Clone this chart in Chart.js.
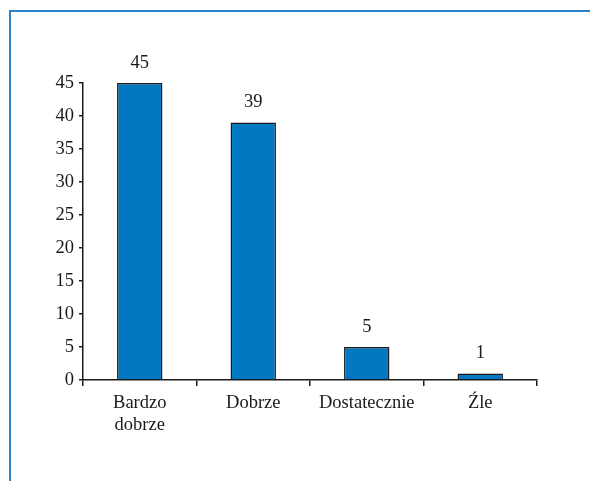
<!DOCTYPE html>
<html>
<head>
<meta charset="utf-8">
<script src="https://cdn.jsdelivr.net/npm/chart.js@4"></script>
<style>
  body { margin: 0; background: #fff; }
  #wrap { position: relative; width: 590px; height: 481px; }
  #frame {
    position: absolute;
    left: 9px;
    top: 10px;
    right: 0;
    bottom: 0;
    border-left: 2px solid #2a83c9;
    border-top: 2px solid #2a83c9;
  }
  canvas { position: absolute; left: 0; top: 0; }
</style>
</head>
<body>
<div id="wrap">
  <div id="frame"></div>
  <canvas id="gradesChart" width="590" height="481"></canvas>
</div>
<script>
const categories = [["Bardzo", "dobrze"], "Dobrze", "Dostatecznie", "Źle"];
const answers = [45, 39, 5, 1];
const yTicks = [0, 5, 10, 15, 20, 25, 30, 35, 40, 45];

const font = { family: "'Liberation Serif', 'DejaVu Serif', serif", size: 18.5 };
const axisColor = "#1a1a1a";

// draws the number above each bar
const valueLabels = {
  id: "valueLabels",
  afterDatasetsDraw(chart) {
    const ctx = chart.ctx;
    const meta = chart.getDatasetMeta(0);
    ctx.save();
    ctx.font = `${font.size}px ${font.family}`;
    ctx.fillStyle = "#1a1a1a";
    ctx.textAlign = "center";
    ctx.textBaseline = "middle";
    meta.data.forEach((bar, i) => {
      ctx.fillText(String(answers[i]), bar.x, bar.y - 20);
    });
    ctx.restore();
  },
};

const ctx = document.getElementById("gradesChart").getContext("2d");

new Chart(ctx, {
  type: "bar",
  data: {
    labels: categories,
    datasets: [
      {
        data: answers,
        backgroundColor: "#0078c1",
        borderColor: "#1a1a1a",
        borderWidth: 1.5,
        barPercentage: 0.4,
        categoryPercentage: 1,
      },
    ],
  },
  options: {
    responsive: false,
    animation: false,
    layout: {
      padding: { left: 0, right: 53, top: 83, bottom: 0 },
    },
    plugins: {
      legend: { display: false },
      tooltip: { enabled: false },
    },
    scales: {
      x: {
        grid: {
          offset: true,
          drawOnChartArea: false,
          drawTicks: true,
          tickLength: 6,
          color: axisColor,
          lineWidth: 1.5,
        },
        border: { color: axisColor, width: 1.5 },
        ticks: {
          color: "#1a1a1a",
          font: font,
          padding: 6,
          maxRotation: 0,
          autoSkip: false,
        },
        afterFit: (scale) => {
          scale.height = 101;
        },
      },
      y: {
        min: 0,
        max: 45,
        afterBuildTicks: (scale) => {
          scale.ticks = yTicks.map((v) => ({ value: v }));
        },
        grid: {
          drawOnChartArea: false,
          drawTicks: true,
          tickLength: 4,
          color: axisColor,
          lineWidth: 1.5,
        },
        border: { color: axisColor, width: 1.5 },
        ticks: {
          color: "#1a1a1a",
          font: font,
          padding: 5,
        },
        afterFit: (scale) => {
          scale.width = 83;
        },
      },
    },
  },
  plugins: [valueLabels],
});
</script>
</body>
</html>
